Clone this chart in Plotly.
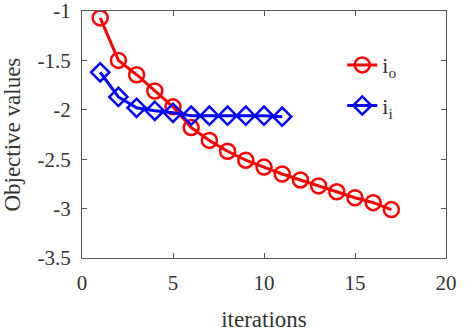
import plotly.graph_objects as go

iters_o = list(range(1, 18))
vals_o = [-1.07, -1.50, -1.645, -1.81, -1.97, -2.18, -2.31, -2.42, -2.51, -2.58,
          -2.65, -2.71, -2.77, -2.83, -2.89, -2.94, -3.01]
iters_i = list(range(1, 12))
vals_i = [-1.62, -1.87, -1.98, -2.01, -2.03, -2.06, -2.06, -2.06, -2.06, -2.06, -2.07]

x_ticks = [0, 5, 10, 15, 20]
y_ticks = [-1, -1.5, -2, -2.5, -3, -3.5]

fam = "Liberation Serif, Times New Roman, serif"
font = dict(family=fam, size=21, color="#333")
tfont = dict(family=fam, size=23, color="#333")

fig = go.Figure()
fig.add_trace(go.Scatter(
    x=iters_o, y=vals_o, mode="lines+markers", name="i<sub>o</sub>", legendgroup="o",
    line=dict(color="#ff0000", width=3),
    marker=dict(symbol="circle-open", size=15, color="#ff0000", line=dict(width=2.5)),
))
fig.add_trace(go.Scatter(
    x=iters_i, y=vals_i, mode="lines+markers", name="i<sub>i</sub>", legendgroup="i",
    line=dict(color="#0000ff", width=3),
    marker=dict(symbol="diamond-open", size=14, color="#0000ff", line=dict(width=2.5)),
))

axis_common = dict(showgrid=False, zeroline=False, showline=True, linecolor="#555",
                   linewidth=1.2, mirror="ticks", ticks="inside", ticklen=5,
                   tickcolor="#555", tickfont=font, ticklabeloverflow="allow",
                   automargin=False)
fig.update_layout(
    width=466, height=332,
    margin=dict(l=82, r=20, t=11, b=74),
    paper_bgcolor="white", plot_bgcolor="white",
    font=font,
    xaxis=dict(range=[0, 20], tickvals=x_ticks, ticktext=[str(v) for v in x_ticks],
               ticklabelstandoff=6,
               title=dict(text="iterations", font=tfont, standoff=19), **axis_common),
    yaxis=dict(range=[-3.5, -1], tickvals=y_ticks, ticktext=[f"{v:g}" for v in y_ticks],
               ticklabelstandoff=6, **axis_common),
    legend=dict(x=0.715, y=0.866, xanchor="left", yanchor="top", bgcolor="rgba(0,0,0,0)",
                font=dict(family=fam, size=22, color="#333"),
                traceorder="grouped", tracegroupgap=9),
    showlegend=True,
    annotations=[dict(text="Objective values", xref="paper", yref="paper",
                      x=-0.192, y=0.5, xanchor="center", yanchor="middle",
                      textangle=-90, showarrow=False, font=tfont)],
)
fig.write_html("out.html")
